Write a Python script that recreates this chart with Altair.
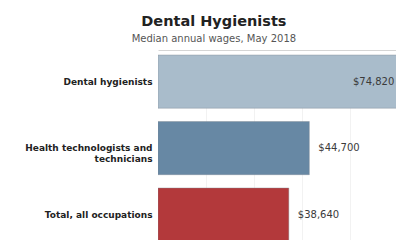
import altair as alt
import pandas as pd

categories = ["Dental hygienists", "Health technologists and technicians", "Total, all occupations"]
wages = [74820, 44700, 38640]
value_labels = ["$74,820", "$44,700", "$38,640"]
colors = ["#a9bccb", "#6788a4", "#b3393b"]
grid_ticks = [14200, 28400, 42600, 56800, 71000]

df = pd.DataFrame({"occupation": categories, "wage": wages,
                   "label": value_labels, "color": colors})

y = alt.Y(
    "occupation:N", sort=categories, title=None,
    scale=alt.Scale(paddingInner=0.2, paddingOuter=0, range=[5, 191.2]),
    axis=alt.Axis(
        labelFont="DejaVu Sans", labelFontWeight="bold", labelFontSize=9,
        labelColor="#222", labelPadding=6, ticks=False, domain=False,
        labelLimit=300, labelLineHeight=11,
        labelExpr="datum.value == 'Health technologists and technicians' ? ['Health technologists and', 'technicians'] : datum.value",
    ),
)
x = alt.X(
    "wage:Q", title=None,
    scale=alt.Scale(domain=[0, 70300], nice=False),
    axis=alt.Axis(orient="top", labels=False, ticks=False, values=grid_ticks,
                  domainColor="#d5d5d5", gridColor="#f2f2f2"),
)
y_plain = alt.Y("occupation:N", sort=categories)
x_plain = alt.X("wage:Q")

base = alt.Chart(df)

bars = base.mark_bar(stroke="#7d8790", strokeWidth=0.8, strokeOpacity=0.5, clip=True).encode(
    x=x, y=y, color=alt.Color("color:N", scale=None)
)

text_in = base.transform_filter("datum.wage > 60000").mark_text(
    align="right", dx=-17, font="DejaVu Sans", fontSize=10, color="#3a3a3a", clip=True
).encode(x=x_plain, y=y_plain, text="label:N")

text_out = base.transform_filter("datum.wage <= 60000").mark_text(
    align="left", dx=9, font="DejaVu Sans", fontSize=10, color="#3a3a3a"
).encode(x=x_plain, y=y_plain, text="label:N")

chart = (
    alt.layer(bars, text_in, text_out)
    .properties(
        width=388, height=232,
        autosize=alt.AutoSizeParams(type="fit", contains="padding"),
        padding={"left": 16, "top": 5, "right": 0, "bottom": 0},
        title=alt.TitleParams(
            "Dental Hygienists",
            subtitle="Median annual wages, May 2018",
            font="DejaVu Sans", fontSize=14.5, fontWeight="bold", color="#222",
            subtitleFont="DejaVu Sans", subtitleFontSize=10, subtitleColor="#555",
            subtitlePadding=5, offset=5, anchor="middle", frame="bounds", dx=3.5,
        ),
    )
    .configure_view(stroke=None)
)

chart.save("out.html", embed_options={"renderer": "svg", "actions": False})
